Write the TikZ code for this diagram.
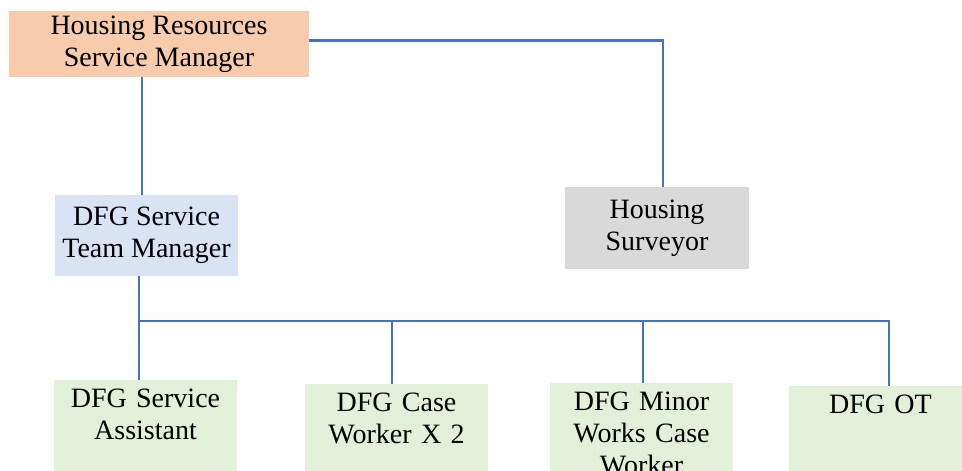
\documentclass[tikz,border=0pt]{standalone}
\usepackage{fontspec}
\setmainfont{Liberation Serif}
\definecolor{hrpeach}{HTML}{F8CBAD}
\definecolor{teamblue}{HTML}{DAE3F3}
\definecolor{surveygrey}{HTML}{D9D9D9}
\definecolor{staffgreen}{HTML}{E2F0D9}
\definecolor{linkblue}{HTML}{4472C4}
\begin{document}
\begin{tikzpicture}[x=1pt, y=1pt,
    post/.style={fill=#1, inner sep=0pt, align=center, font=\fontsize{28}{32}\selectfont},
    headbox/.style={post=#1, minimum width=184pt, minimum height=82pt},
    staffbox/.style={post=staffgreen, anchor=north, text width=183pt, text height=27pt, text depth=80pt},
    link/.style={draw=linkblue, line width=2.5pt}]
  \useasboundingbox (0,0) rectangle (962,-471);
  % managers
  \node[headbox=hrpeach, minimum width=300pt, minimum height=66pt] (hrsm) at (159,-44) {Housing Resources\\Service Manager};
  \node[headbox=teamblue, minimum width=183pt, minimum height=81pt] (stm) at (146.5,-235.5) {DFG Service\\Team Manager};
  \node[headbox=surveygrey] (surv) at (657,-228) {Housing\\Surveyor};
  % team
  \node[staffbox] (sa) at (145.5,-380) {DFG Service\\Assistant};
  \node[staffbox] (cw) at (396.5,-384) {DFG Case\\Worker X 2};
  \node[staffbox] (mw) at (641.5,-383) {DFG Minor\\Works Case\\Worker};
  \node[staffbox] (ot) at (880.5,-386) {DFG OT};
  \coordinate (bus) at (0,-321);
  % links
  \draw[link] ([yshift=3.5pt]hrsm.east) -| ([xshift=6pt]surv.north);
  \draw[link] ([xshift=-4.5pt]hrsm.south -| stm.north) -- ([xshift=-4.5pt]stm.north);
  \draw[link] ([xshift=-7.5pt]stm.south) -- ([xshift=-7.5pt]stm.south |- bus) -| ([xshift=8.5pt]ot.north);
  \draw[link] ([xshift=-6.5pt]sa.north) -- ([xshift=-6.5pt]sa.north |- bus);
  \draw[link] ([xshift=-4.5pt]cw.north) -- ([xshift=-4.5pt]cw.north |- bus);
  \draw[link] ([xshift=1.5pt]mw.north) -- ([xshift=1.5pt]mw.north |- bus);
\end{tikzpicture}
\end{document}
